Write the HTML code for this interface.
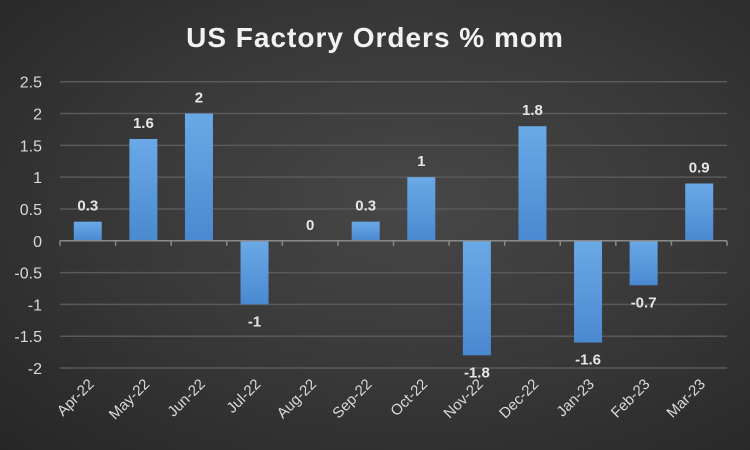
<!DOCTYPE html>
<html><head><meta charset="utf-8"><style>
html,body{margin:0;padding:0;}
body{width:750px;height:450px;overflow:hidden;background:radial-gradient(ellipse at 55% 45%,#474747 0%,#3a3a3a 45%,#262626 100%);font-family:"Liberation Sans",sans-serif;}
svg{display:block;}
</style></head><body>
<svg id="chart" width="750" height="450" xmlns="http://www.w3.org/2000/svg">
<text x="375" y="47" text-anchor="middle" fill="#f2f2f2" font-size="28" font-weight="bold" font-family="Liberation Sans, sans-serif" letter-spacing="1">US Factory Orders % mom</text>
<g id="grid"></g><g id="bars"></g><g id="labels"></g>
</svg>
<script>
const categories=["Apr-22","May-22","Jun-22","Jul-22","Aug-22","Sep-22","Oct-22","Nov-22","Dec-22","Jan-23","Feb-23","Mar-23"];
const values=[0.3,1.6,2,-1,0,0.3,1,-1.8,1.8,-1.6,-0.7,0.9];
const valueLabels=["0.3","1.6","2","-1","0","0.3","1","-1.8","1.8","-1.6","-0.7","0.9"];
const yTicks=[2.5,2,1.5,1,0.5,0,-0.5,-1,-1.5,-2];
const yTickLabels=["2.5","2","1.5","1","0.5","0","-0.5","-1","-1.5","-2"];
const NS="http://www.w3.org/2000/svg";
const plotLeft=60,plotRight=727,yMax=2.5,yMin=-2,plotTop=81.7,plotBottom=368;
function yScale(v){return plotTop+(yMax-v)/(yMax-yMin)*(plotBottom-plotTop);}
const step=(plotRight-plotLeft)/categories.length;
function xc(i){return plotLeft+step*(i+0.5);}
function mk(t,a,p){const e=document.createElementNS(NS,t);for(const k in a)e.setAttribute(k,a[k]);p.appendChild(e);return e;}
const grid=document.getElementById('grid'),bars=document.getElementById('bars'),labels=document.getElementById('labels');
yTicks.forEach((v,i)=>{
  if(v!==0){const l=mk('line',{x1:plotLeft,x2:plotRight,y1:yScale(v),y2:yScale(v),stroke:'#5a5a5a','stroke-width':1.5},grid);
  
  }
  const t=mk('text',{x:42,y:yScale(v)+6,'text-anchor':'end',fill:'#d9d9d9','font-size':16},grid);
  t.textContent=yTickLabels[i];
  
  
});
const defs=mk('defs',{},document.getElementById('chart'));
const g=mk('linearGradient',{id:'bg',x1:0,x2:0,y1:0,y2:1},defs);
mk('stop',{offset:'0','stop-color':'#6aa9e6'},g);mk('stop',{offset:'1','stop-color':'#4a89d0'},g);
categories.forEach((c,i)=>{
  const v=values[i],x=xc(i)-14,y0=yScale(0),y1=yScale(v);
  const r=mk('rect',{x:x,y:Math.min(y0,y1),width:28,height:Math.abs(y1-y0),fill:'url(#bg)'},bars);
  
  
  const ly=v>=0?y1-11:y1+22;
  const t=mk('text',{x:xc(i),y:ly,'text-anchor':'middle',fill:'#e6e6e6','font-size':15,'font-weight':'bold'},labels);
  t.textContent=valueLabels[i];
  
  
  const xl=mk('text',{transform:'translate('+(xc(i)+7)+',385) rotate(-45)','text-anchor':'end',fill:'#d9d9d9','font-size':15},labels);
  xl.textContent=c;
  
  
});
const ax=mk('line',{x1:plotLeft,x2:plotRight,y1:yScale(0),y2:yScale(0),stroke:'#8a8a8a','stroke-width':1.5},labels);


for(let i=0;i<=categories.length;i++){
  const tk=mk('line',{x1:plotLeft+step*i,x2:plotLeft+step*i,y1:yScale(0),y2:yScale(0)+5,stroke:'#8a8a8a','stroke-width':1.5},labels);
  
  
}
</script>
</body></html>
